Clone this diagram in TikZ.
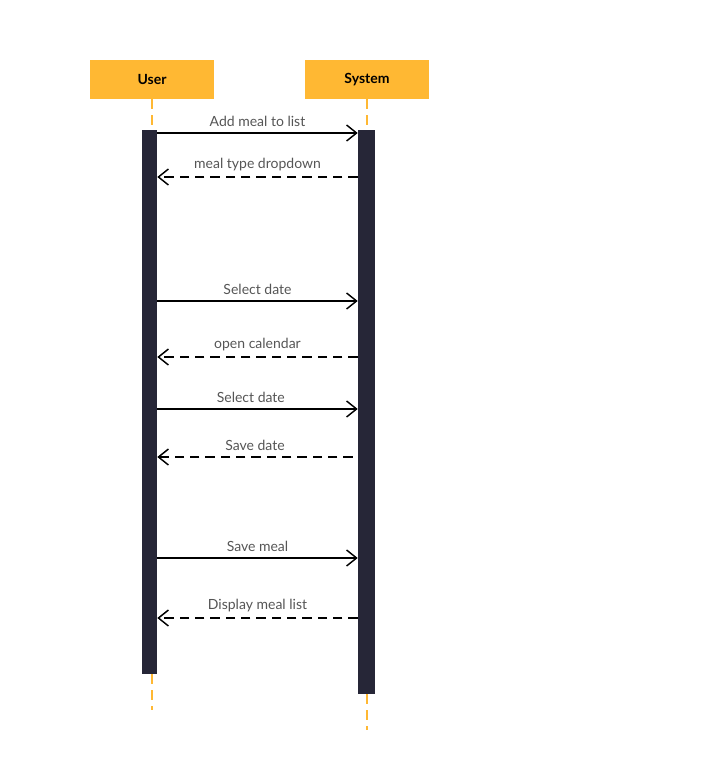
\documentclass[tikz,border=0pt]{standalone}
\usepackage{fontspec}
\setmainfont{Lato}
\usetikzlibrary{arrows.meta}
\usetikzlibrary{positioning}
\definecolor{headfill}{HTML}{FFB833}
\definecolor{barfill}{HTML}{262637}
\definecolor{msgtext}{HTML}{555555}

\begin{document}
\begin{tikzpicture}
    [   x = 0.75pt, y = -0.75pt
    ,   > = {Straight Barb[length=7.5pt,width=12pt,line width=1.1pt]}
    ,   actor/.style = {fill=headfill, minimum width=93pt, minimum height=29.25pt,
                        inner sep=0pt, font=\fontsize{10.5}{12}\selectfont\bfseries}
    ,   actbar/.style = {fill=barfill, inner sep=0pt}
    ,   lifeline/.style = {headfill, line width=1.5pt, dash pattern=on 7pt off 5pt}
    ,   call/.style = {->, line width=1.1pt}
    ,   reply/.style = {->, line width=1.1pt, dash pattern=on 7pt off 4.5pt}
    ,   lbl/.style = {anchor=south, inner sep=4pt, text=msgtext,
                      font=\fontsize{10.5}{12}\selectfont}
    ]
    \useasboundingbox (0,0) rectangle (710,765);

    % participants
    \node[actor] (user) at (152,79.5) {User};
    \node[actor] (system) at (367,79.5) {System};

    % activation bars
    \node[actbar, minimum width=11.25pt, minimum height=408pt] (ubar) at (149.5,402) {};
    \node[actbar, minimum width=12.75pt, minimum height=423pt] (sbar) at (366.5,412) {};

    % lifelines
    \coordinate (uend) at (152,710);
    \coordinate (send) at (367,730);
    \draw[lifeline] (user.south) -- (user.south |- ubar.north);
    \draw[lifeline] (system.south) -- (system.south |- sbar.north);
    \draw[lifeline] (user.south |- ubar.south) -- (uend);
    \draw[lifeline] (system.south |- sbar.south) -- (send);

    % messages
    \draw[call] (ubar.east |- 0,133) -- node[lbl] {Add meal to list} (sbar.west |- 0,133);
    \draw[reply] (sbar.west |- 0,177) -- node[lbl] {meal type dropdown} (ubar.east |- 0,177);
    \draw[call] (ubar.east |- 0,301) -- node[lbl] {Select date} (sbar.west |- 0,301);
    \draw[reply] (sbar.west |- 0,357) -- node[lbl] {open calendar} (ubar.east |- 0,357);
    \draw[call] (ubar.east |- 0,409) -- node[lbl, xshift=-5pt] {Select date} (sbar.west |- 0,409);
    \draw[reply] ([xshift=-3.75pt]sbar.west |- 0,457) -- node[lbl] {Save date} (ubar.east |- 0,457);
    \draw[call] (ubar.east |- 0,558) -- node[lbl] {Save meal} (sbar.west |- 0,558);
    \draw[reply] (sbar.west |- 0,618) -- node[lbl] {Display meal list} (ubar.east |- 0,618);
\end{tikzpicture}
\end{document}
